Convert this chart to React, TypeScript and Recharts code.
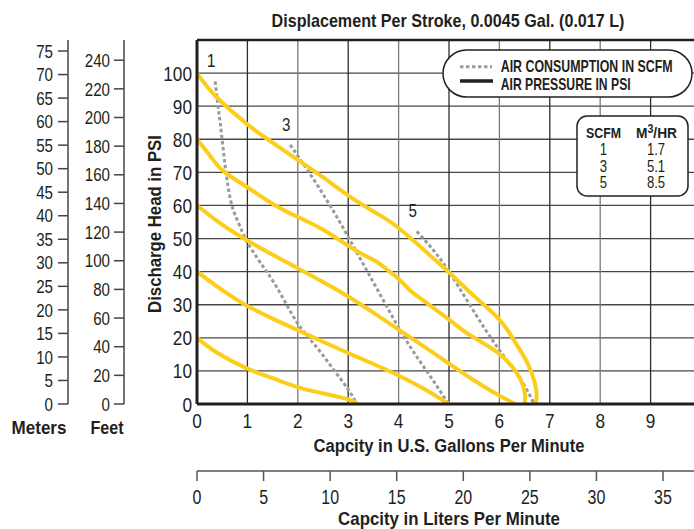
import { LineChart, Line, XAxis, YAxis, CartesianGrid, ReferenceLine, ReferenceDot } from "recharts"

const FONT = "'Liberation Sans', Arial, Helvetica, sans-serif"
const INK = "#231f20"
const YELLOW = "#fdcd1c"
const GRAY = "#9b9b9b"
const SQ = 0.82 // horizontal squeeze to mimic a condensed face

// x: U.S. gallons per minute, y: discharge head in psi
// air pressure curves (solid, yellow)
const p100X = [0, 0.37, 1.0, 1.4, 2.0, 2.52, 3.1, 3.6, 4.0, 4.5, 5.0, 5.5, 6.0, 6.3, 6.55, 6.7, 6.74, 6.72]
const p100Y = [100, 93, 84.5, 80, 73.8, 68.3, 62, 57.3, 53.2, 46.6, 39.8, 32.6, 25.5, 19, 12.6, 6.5, 2.5, 0]
const p80X = [0, 0.27, 0.53, 1.0, 1.53, 2.0, 2.52, 3.14, 3.54, 3.8, 4.0, 4.23, 4.46, 5.0, 5.45, 5.97, 6.34, 6.47, 6.51, 6.5]
const p80Y = [80, 74.8, 70.3, 65.5, 60.2, 56.5, 52.5, 46.5, 43.2, 40.3, 37.8, 34.3, 31.6, 25.5, 20.5, 15.5, 9.5, 5.5, 2.5, 0]
const p60X = [0, 0.5, 1.0, 1.5, 2.0, 2.5, 3.0, 3.5, 4.0, 4.5, 5.0, 5.5, 5.9, 6.31]
const p60Y = [60, 54.2, 49.4, 45.1, 41, 36.9, 32.5, 27.6, 22.5, 17.4, 12.2, 7.1, 3.4, 0]
const p40X = [0, 0.53, 1.0, 1.5, 2.0, 2.5, 3.0, 3.5, 4.0, 4.5, 5.0]
const p40Y = [40, 34.1, 29.6, 25.8, 22.3, 18.8, 15.4, 12.1, 8.6, 4.6, 0]
const p20X = [0, 0.4, 1.0, 1.5, 2.0, 2.5, 3.0, 3.18]
const p20Y = [20, 15.5, 10.7, 7.8, 5.1, 3.2, 1.4, 0]

// air consumption curves (dashed, gray)
const scfmLabels = ["1", "3", "5"]
const s1X = [0.36, 0.41, 0.46, 0.52, 0.58, 0.66, 0.76, 0.9, 1.0, 1.2, 1.4, 1.65, 2.0, 2.35, 2.7, 3.0, 3.17]
const s1Y = [97.5, 91, 85, 77, 69.5, 62, 57, 52, 48.8, 44, 39.6, 33.5, 24.3, 17.6, 10.6, 4.4, 0]
const s3X = [1.85, 2.2, 2.6, 3.0, 3.4, 3.8, 4.2, 4.6, 4.99]
const s3Y = [78.3, 70.5, 61, 50.5, 39.5, 28.5, 18, 9, 0]
const s5X = [4.36, 4.7, 5.0, 5.35, 5.7, 6.0, 6.3, 6.5, 6.69]
const s5Y = [52.2, 46.3, 40, 31.5, 23, 16.3, 10, 5.5, 0]

// axis ticks
const gpmTicks = [0, 1, 2, 3, 4, 5, 6, 7, 8, 9]
const lpmTicks = [0, 5, 10, 15, 20, 25, 30, 35]
const psiTicks = [0, 10, 20, 30, 40, 50, 60, 70, 80, 90, 100]
const feetTicks = [0, 20, 40, 60, 80, 100, 120, 140, 160, 180, 200, 220, 240]
const meterTicks = [0, 5, 10, 15, 20, 25, 30, 35, 40, 45, 50, 55, 60, 65, 70, 75]

// conversion table
const tableScfm = ["1", "3", "5"]
const tableM3hr = ["1.7", "5.1", "8.5"]

const zip = (xs: number[], ys: number[]) => xs.map((x, i) => ({ x, y: ys[i] }))

const pressureCurves = [zip(p100X, p100Y), zip(p80X, p80Y), zip(p60X, p60Y), zip(p40X, p40Y), zip(p20X, p20Y)]
const airCurves = [zip(s1X, s1Y), zip(s3X, s3Y), zip(s5X, s5Y)]

const PSI_MAX = 110
const GPM_MAX = 10

let ctx: CanvasRenderingContext2D | null = null
function measure(text: string, size: number, bold: boolean) {
  if (!ctx) ctx = document.createElement("canvas").getContext("2d")
  if (!ctx) return 0
  ctx.font = `${bold ? "bold " : ""}${size}px ${FONT}`
  return ctx.measureText(text).width
}

// tick renderer with squeezed text
const makeTick = (size: number, anchor: "middle" | "end", dy: string) => (props: any) => (
  <g transform={`translate(${props.x},${props.y}) scale(${SQ},1)`}>
    <text x={0} y={0} dy={dy} textAnchor={anchor} fontSize={size} fontFamily={FONT} fill={INK}>
      {props.payload.value}
    </text>
  </g>
)

// squeezed text for the overlay; len fits the text to a width
function NText({ x, y, size, bold, anchor = "middle", len, children }: any) {
  let sx = SQ
  if (len) {
    const w = measure(String(children), size, !!bold)
    if (w > 0) sx = len / w
  }
  return (
    <g transform={`translate(${x},${y}) scale(${sx},1)`}>
      <text x={0} y={0} fontSize={size} fontWeight={bold ? 700 : 400} fontFamily={FONT} fill={INK} textAnchor={anchor}>
        {children}
      </text>
    </g>
  )
}

export default function App() {
  return (
    <div style={{ position: "absolute", left: 0, top: 0, width: 694, height: 529, overflow: "hidden", background: "#fff" }}>
      <LineChart width={720} height={529} margin={{ top: 40, right: 19, bottom: 0, left: 0 }}>
        <CartesianGrid stroke="#474747" strokeWidth={1.3} vertical={false} />
        <CartesianGrid
          stroke="#2e2e2e"
          strokeWidth={1.3}
          horizontal={false}
          verticalValues={gpmTicks.filter((t) => t % 2 === 1)}
        />
        <CartesianGrid
          stroke="#7a7a7a"
          strokeWidth={1.3}
          horizontal={false}
          verticalValues={gpmTicks.filter((t) => t > 0 && t % 2 === 0)}
        />
        <XAxis
          type="number"
          dataKey="x"
          domain={[0, GPM_MAX]}
          ticks={gpmTicks}
          interval={0}
          allowDataOverflow
          height={67}
          axisLine={{ stroke: INK, strokeWidth: 3 }}
          tickLine={false}
          tickSize={0}
          tickMargin={9}
          tick={makeTick(21, "middle", "0.72em")}
        />
        <XAxis
          xAxisId="liters"
          type="number"
          dataKey="x"
          domain={[0, GPM_MAX * 3.7854]}
          ticks={lpmTicks}
          interval={0}
          allowDataOverflow
          height={58}
          axisLine={{ stroke: "#555", strokeWidth: 1.5 }}
          tickLine={{ stroke: "#555", strokeWidth: 1.5 }}
          tickSize={10}
          tickMargin={9}
          tick={makeTick(19.5, "middle", "0.72em")}
        />
        <YAxis
          type="number"
          domain={[0, PSI_MAX]}
          ticks={psiTicks}
          interval={0}
          allowDataOverflow
          width={73}
          axisLine={{ stroke: INK, strokeWidth: 3 }}
          tickLine={false}
          tickSize={0}
          tickMargin={5}
          tick={makeTick(21, "end", "0.36em")}
        />
        <YAxis
          yAxisId="feet"
          type="number"
          domain={[0, PSI_MAX * 2.31]}
          ticks={feetTicks}
          interval={0}
          allowDataOverflow
          width={56}
          axisLine={{ stroke: "#444", strokeWidth: 1.5 }}
          tickLine={{ stroke: "#444", strokeWidth: 1.5 }}
          tickSize={10}
          tickMargin={4}
          tick={makeTick(18.5, "end", "0.36em")}
        />
        <YAxis
          yAxisId="meters"
          type="number"
          domain={[0, PSI_MAX * 0.7031]}
          ticks={meterTicks}
          interval={0}
          allowDataOverflow
          width={68}
          axisLine={{ stroke: "#444", strokeWidth: 1.5 }}
          tickLine={{ stroke: "#444", strokeWidth: 1.5 }}
          tickSize={10}
          tickMargin={5}
          tick={makeTick(18.5, "end", "0.36em")}
        />
        <ReferenceLine y={PSI_MAX} stroke={INK} strokeWidth={2.5} />
        {airCurves.map((d, i) => (
          <Line
            key={`air-${i}`}
            data={d}
            dataKey="y"
            type="natural"
            stroke={GRAY}
            strokeWidth={3}
            strokeDasharray="3.5 2.5"
            dot={false}
            isAnimationActive={false}
          />
        ))}
        {pressureCurves.map((d, i) => (
          <Line
            key={`psi-${i}`}
            data={d}
            dataKey="y"
            type="natural"
            stroke={YELLOW}
            strokeWidth={4}
            dot={false}
            isAnimationActive={false}
          />
        ))}
        {airCurves.map((d, i) => (
          <ReferenceDot
            key={`lbl-${i}`}
            x={d[0].x}
            y={d[0].y}
            r={1}
            fill="none"
            stroke="none"
            label={(p: any) => (
              <g transform={`translate(${p.viewBox.x - 3},${p.viewBox.y - 13}) scale(${SQ},1)`}>
                <text x={0} y={0} textAnchor="middle" fontSize={18.5} fontFamily={FONT} fill={INK}>
                  {scfmLabels[i]}
                </text>
              </g>
            )}
          />
        ))}
      </LineChart>

      <svg width={694} height={529} style={{ position: "absolute", left: 0, top: 0, pointerEvents: "none" }}>
        <NText x={448} y={26.5} size={18.5} bold len={353}>
          Displacement Per Stroke, 0.0045 Gal. (0.017 L)
        </NText>
        <g transform="translate(160.5,224) rotate(-90)">
          <NText x={0} y={0} size={18} bold len={178}>
            Discharge Head in PSI
          </NText>
        </g>
        <NText x={449} y={451.5} size={18.5} bold len={271}>
          Capcity in U.S. Gallons Per Minute
        </NText>
        <NText x={449} y={524.5} size={18} bold len={222}>
          Capcity in Liters Per Minute
        </NText>
        <NText x={39} y={434} size={18.5} bold len={55}>
          Meters
        </NText>
        <NText x={107} y={434} size={18.5} bold len={33}>
          Feet
        </NText>

        {/* legend */}
        <rect x={443} y={50} width={249} height={47} rx={23.5} fill="#fff" stroke={INK} strokeWidth={1.5} />
        <line x1={460} y1={66.7} x2={492} y2={66.7} stroke={GRAY} strokeWidth={3} strokeDasharray="3.5 2.5" />
        <line x1={460} y1={81} x2={493} y2={81} stroke={INK} strokeWidth={3.5} />
        <NText x={500.7} y={72} size={16} bold anchor="start" len={172}>
          AIR CONSUMPTION IN SCFM
        </NText>
        <NText x={500.7} y={90} size={16} bold anchor="start" len={130}>
          AIR PRESSURE IN PSI
        </NText>

        {/* conversion table */}
        <rect x={577} y={116} width={111} height={80} rx={10} fill="#fff" stroke={INK} strokeWidth={1.5} />
        <NText x={603.5} y={137.7} size={15.5} bold len={35}>
          SCFM
        </NText>
        <text
          x={656.5}
          y={137.7}
          fontSize={15.5}
          fontWeight={700}
          fontFamily={FONT}
          fill={INK}
          textAnchor="middle"
          textLength={41}
          lengthAdjust="spacingAndGlyphs"
        >
          M
          <tspan dy={-5} fontSize={12}>
            3
          </tspan>
          <tspan dy={5}>/HR</tspan>
        </text>
        {tableScfm.map((s, i) => (
          <NText key={`s-${i}`} x={603.5} y={155 + i * 16.7} size={16}>
            {s}
          </NText>
        ))}
        {tableM3hr.map((s, i) => (
          <NText key={`m-${i}`} x={656} y={155 + i * 16.7} size={16}>
            {s}
          </NText>
        ))}
      </svg>
    </div>
  )
}
